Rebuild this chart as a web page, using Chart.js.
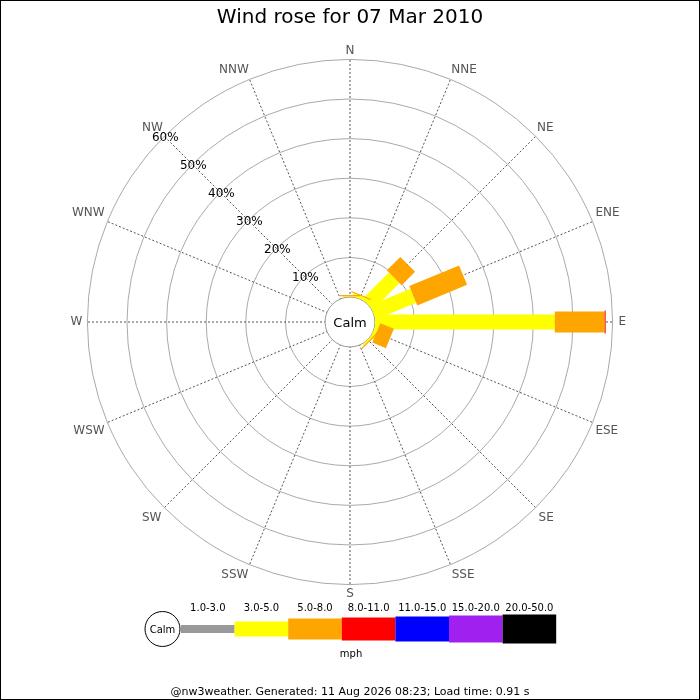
<!DOCTYPE html>
<html>
<head>
<meta charset="utf-8">
<script src="https://cdn.jsdelivr.net/npm/chart.js@4"></script>
<style>
  body { margin: 0; background: #fff; }
  canvas { display: block; }
</style>
</head>
<body>
<canvas id="rose" width="700" height="700"></canvas>
<script>
// DATA (percent of time per direction, per speed class in mph)
const directions = ['N', 'NNE', 'NE', 'ENE', 'E', 'ESE', 'SE', 'SSE', 'S', 'SSW', 'SW', 'WSW', 'W', 'WNW', 'NW', 'NNW']
const speedRanges = ['1.0-3.0', '3.0-5.0', '5.0-8.0', '8.0-11.0', '11.0-15.0', '15.0-20.0', '20.0-50.0']
const speed1to3   = [0, 0, 0, 0, 0, 0, 0, 0, 0, 0, 0, 0, 0, 0, 0, 0]
const speed3to5   = [0.2, 0.8, 9.5, 11.0, 45.4, 0.9, 0.4, 0, 0, 0, 0, 0, 0, 0, 0, 0]
const speed5to8   = [0.3, 0.3, 4.8, 13.6, 12.6, 3.7, 0.3, 0, 0, 0, 0, 0, 0, 0, 0, 0]
const speed8to11  = [0, 0, 0, 0, 0.25, 0, 0, 0, 0, 0, 0, 0, 0, 0, 0, 0]
const speed11to15 = [0, 0, 0, 0, 0, 0, 0, 0, 0, 0, 0, 0, 0, 0, 0, 0]
const speed15to20 = [0, 0, 0, 0, 0, 0, 0, 0, 0, 0, 0, 0, 0, 0, 0, 0]
const speed20to50 = [0, 0, 0, 0, 0, 0, 0, 0, 0, 0, 0, 0, 0, 0, 0, 0]
const percentTicks = [10, 20, 30, 40, 50, 60]

// STYLES
const rangeColors = ['#999999', '#ffff00', '#ffa500', '#ff0000', '#0000ff', '#a020f0', '#000000']
const rangeWidths = [8, 15, 21, 23, 25, 27, 29]
const labelPads = [1, 2, 2, 3, 6, 3, 4, 3, 2, 3, 4, 3, 5, 3, 2, 2]
const speedSeries = [speed1to3, speed3to5, speed5to8, speed8to11, speed11to15, speed15to20, speed20to50]

Chart.defaults.font.family = '"DejaVu Sans", sans-serif'
Chart.defaults.color = '#000'

// DRAW THE STACKED BARS, CALM CIRCLE, % LABELS AND LEGEND
const windRosePlugin = {
  id: 'windRose',
  beforeDraw(chart) {
    const ctx = chart.ctx
    ctx.save()
    ctx.fillStyle = '#fff'
    ctx.fillRect(0, 0, chart.width, chart.height)
    ctx.restore()
  },
  afterDatasetsDraw(chart) {
    const ctx = chart.ctx
    const scale = chart.scales.r
    const cx = scale.xCenter, cy = scale.yCenter
    const calmR = scale.getDistanceFromCenterForValue(0)

    ctx.save()
    ctx.beginPath()
    ctx.arc(cx, cy, calmR, 0, Math.PI * 2)
    ctx.fillStyle = '#fff'
    ctx.fill()
    ctx.strokeStyle = '#999'
    ctx.lineWidth = 1
    ctx.stroke()

    const cum = directions.map(() => 0)
    chart.data.datasets.forEach((ds, k) => {
      ds.data.forEach((v, i) => {
        if (!v) return
        const r1 = scale.getDistanceFromCenterForValue(cum[i])
        const r2 = scale.getDistanceFromCenterForValue(cum[i] + v)
        cum[i] += v
        const w = rangeWidths[k]
        ctx.save()
        ctx.translate(cx, cy)
        ctx.rotate(scale.getIndexAngle(i) - Math.PI / 2)
        ctx.fillStyle = ds.backgroundColor
        ctx.fillRect(r1, -w / 2, r2 - r1, w)
        ctx.restore()
      })
    })

    ctx.fillStyle = '#000'
    ctx.textAlign = 'center'
    ctx.textBaseline = 'middle'
    ctx.font = '13px "DejaVu Sans"'
    ctx.fillText('Calm', cx, cy + 1.5)

    // percent labels along the NW spoke
    ctx.font = '12px "DejaVu Sans"'
    const nw = directions.indexOf('NW')
    percentTicks.forEach(v => {
      const p = scale.getPointPositionForValue(nw, v)
      ctx.fillText(v + '%', p.x + 1, p.y + 1.5)
    })
    ctx.restore()
  },
  afterDraw(chart) {
    const ctx = chart.ctx
    const legX = 181, legStep = 53.6, legY = 629
    ctx.save()
    // calm marker
    ctx.beginPath()
    ctx.arc(162.5, legY, 17.5, 0, Math.PI * 2)
    ctx.fillStyle = '#fff'
    ctx.fill()
    ctx.strokeStyle = '#000'
    ctx.lineWidth = 1
    ctx.stroke()
    ctx.fillStyle = '#000'
    ctx.textAlign = 'center'
    ctx.textBaseline = 'middle'
    ctx.font = '10px "DejaVu Sans"'
    ctx.fillText('Calm', 162.5, legY + 1)

    speedRanges.forEach((label, k) => {
      const x0 = legX + k * legStep
      const h = rangeWidths[k]
      ctx.fillStyle = rangeColors[k]
      ctx.fillRect(x0, legY - h / 2, legStep, h)
      ctx.fillStyle = '#000'
      ctx.fillText(label, x0 + legStep / 2, 608)
    })
    ctx.fillText('mph', 351, 654)

    // frame
    ctx.strokeStyle = '#000'
    ctx.strokeRect(0.5, 0.5, chart.width - 1, chart.height - 1)
    ctx.restore()
  }
}

const ctx = document.getElementById('rose')
new Chart(ctx, {
  type: 'radar',
  data: {
    labels: directions,
    datasets: speedRanges.map((label, k) => ({
      label: label + ' mph',
      data: speedSeries[k],
      backgroundColor: rangeColors[k],
      borderColor: rangeColors[k],
      showLine: false,
      pointRadius: 0,
      pointHoverRadius: 0,
      fill: false
    }))
  },
  options: {
    responsive: false,
    animation: false,
    layout: { padding: { left: 20, right: 20, top: 0, bottom: 0 } },
    scales: {
      r: {
        min: -6.3,
        max: 60,
        afterBuildTicks: (scale) => {
          scale.ticks = percentTicks.map(v => ({ value: v }))
        },
        ticks: { display: false },
        grid: { circular: true, color: '#aaa', lineWidth: 1 },
        angleLines: { color: '#555', lineWidth: 1, borderDash: [2, 2] },
        pointLabels: {
          color: '#555',
          font: { size: 12 },
          padding: (c) => labelPads[c.index]
        }
      }
    },
    plugins: {
      legend: { display: false },
      tooltip: { enabled: false },
      title: {
        display: true,
        text: 'Wind rose for 07 Mar 2010',
        color: '#000',
        font: { size: 20, weight: 'normal' },
        padding: { top: 6, bottom: 14 }
      },
      subtitle: {
        display: true,
        position: 'bottom',
        text: '@nw3weather. Generated: 11 Aug 2026 08:23; Load time: 0.91 s',
        color: '#000',
        font: { size: 11 },
        padding: { top: 83.4, bottom: 1.4 }
      }
    }
  },
  plugins: [windRosePlugin]
})
</script>
</body>
</html>
